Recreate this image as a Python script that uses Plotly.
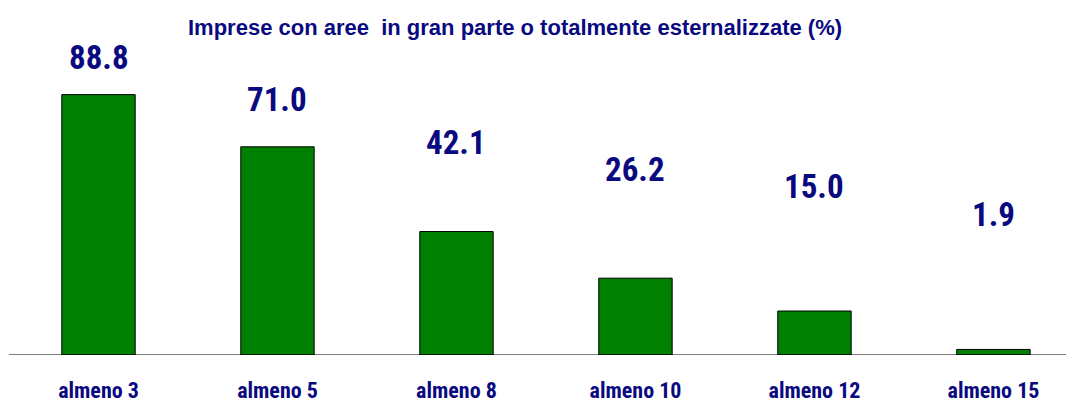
import plotly.graph_objects as go

categories = ["almeno 3", "almeno 5", "almeno 8", "almeno 10", "almeno 12", "almeno 15"]
values = [88.8, 71.0, 42.1, 26.2, 15.0, 1.9]
value_labels = ["88.8", "71.0", "42.1", "26.2", "15.0", "1.9"]
title_text = "Imprese con aree \u00a0in gran parte o totalmente esternalizzate (%)"

NAVY = "#0a0a80"
NARROW = "Roboto Condensed, Liberation Sans Narrow, Arial Narrow, sans-serif"

# label heights (layout positions, in data units) reproducing the reference staggering
label_y = [101.5, 87.0, 72.5, 63.1, 57.3, 47.8]

fig = go.Figure()
fig.add_trace(go.Bar(
    x=list(range(len(categories))), y=values,
    marker=dict(color="#008000", line=dict(color="#000000", width=1)),
    width=0.41, hoverinfo="skip",
))

for i, (lab, ly) in enumerate(zip(value_labels, label_y)):
    fig.add_annotation(x=i, y=ly, text="<b>%s</b>" % lab, showarrow=False,
                       xanchor="center", yanchor="middle",
                       font=dict(family=NARROW, size=33, color=NAVY))

# page offset of 8px (body margin) -> figure coords
L, T, PW, PH = 1, 1, 1065, 346
fig.add_annotation(x=(507 - L) / PW, xref="paper", y=1 + (T - 19) / PH, yref="paper",
                   text="<b>%s</b>" % title_text, showarrow=False,
                   xanchor="center", yanchor="middle",
                   font=dict(family="Liberation Sans, Arial, sans-serif", size=22, color=NAVY))

fig.update_layout(
    width=1074, height=401,
    margin=dict(l=L, r=1074 - L - PW, t=T, b=401 - T - PH),
    paper_bgcolor="white", plot_bgcolor="white",
    showlegend=False,
    xaxis=dict(range=[-0.5, 5.45], tickmode="array", tickvals=list(range(len(categories))),
               ticktext=["<b>%s</b>" % c for c in categories],
               showgrid=False, zeroline=False, showline=False, ticks="",
               ticklabelstandoff=20,
               tickfont=dict(family=NARROW, size=22, color=NAVY)),
    yaxis=dict(range=[0, 118], showgrid=False, zeroline=False, showline=False,
               showticklabels=False, ticks=""),
    shapes=[dict(type="line", xref="paper", yref="y", x0=0, x1=0.9981, y0=0, y1=0,
                 line=dict(color="black", width=1))],
)

fig.write_html("out.html")
